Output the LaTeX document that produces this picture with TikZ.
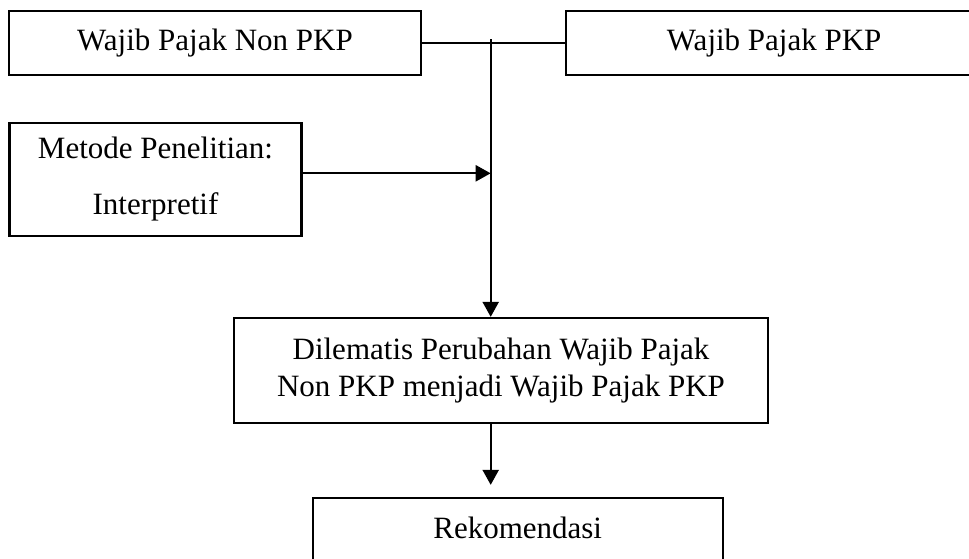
\documentclass[tikz,border=0pt]{standalone}
\usepackage{fontspec}
\setmainfont{Liberation Serif}
\usetikzlibrary{arrows.meta}
\begin{document}
\begin{tikzpicture}[x=1pt,y=-1pt,
  box/.style={draw=black,line width=2.3pt,inner sep=0pt,align=center,font=\fontsize{31}{37}\selectfont},
  conn/.style={line width=2.3pt},
  arr/.style={line width=2.3pt,-{Triangle[length=15pt,width=16pt]}}]
\useasboundingbox (0,0) rectangle (969,558);
\clip (0,0) rectangle (969,558);
\node[box,minimum width=412pt,minimum height=64pt] (nonpkp) at (215,42.8) {Wajib Pajak Non PKP};
\node[box,minimum width=430pt,minimum height=64pt] (pkp) at (780.7,42.8) {\hspace*{-13pt}Wajib Pajak PKP};
\node[box,minimum width=292pt,minimum height=113pt,font=\fontsize{31}{56}\selectfont] (metode) at (155.5,179.3) {Metode Penelitian:\\Interpretif};
\node[box,minimum width=534pt,minimum height=105pt] (dil) at (501,370.5) {Dilematis Perubahan Wajib Pajak\\Non PKP menjadi Wajib Pajak PKP};
\node[box,minimum width=410pt,minimum height=80pt,text height=20pt,text depth=20pt] (rek) at (517.7,538) {Rekomendasi};
\coordinate (J) at (490.7,39.3);
\draw[conn] (nonpkp.east) -- (pkp.west);
\draw[arr] (J) -- (J |- dil.north);
\draw[arr] ([yshift=6pt]metode.east) -- ([yshift=6pt]metode.east -| J);
\draw[arr] (dil.south -| J) -- ([yshift=12pt]rek.north -| J);
\end{tikzpicture}
\end{document}
